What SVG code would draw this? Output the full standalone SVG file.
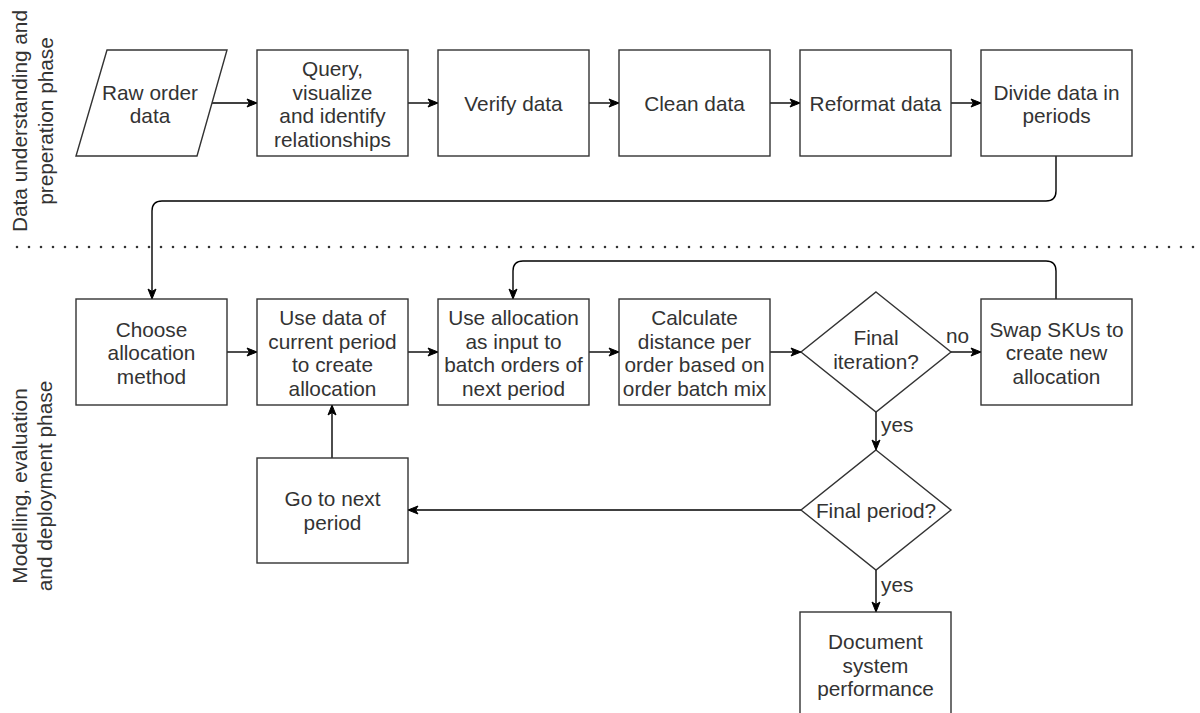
<svg xmlns="http://www.w3.org/2000/svg" width="1200" height="713" viewBox="0 0 1200 713">
  <defs>
    <marker id="arrow" markerUnits="userSpaceOnUse" markerWidth="12" markerHeight="10" viewBox="0 0 12 10" refX="11" refY="5" orient="auto">
      <path d="M1,1 L11,5 L1,9 L3.5,5 Z" fill="#000" stroke="#000" stroke-width="1"/>
    </marker>
  </defs>
  <style>
    .node { fill: #fff; stroke: #333; stroke-width: 1.4; }
    .lbl { font-family: "Liberation Sans", Arial, sans-serif; font-size: 20.8px; fill: #333; text-anchor: middle; }
    .edge { fill: none; stroke: #000; stroke-width: 1.4; }
    .edge-arrow { fill: none; stroke: #000; stroke-width: 1.4; marker-end: url(#arrow); }
    .edge-lbl { font-family: "Liberation Sans", Arial, sans-serif; font-size: 20.8px; fill: #333; }
    .divider { fill: none; stroke: #333; stroke-width: 2.6; stroke-linecap: round; stroke-dasharray: 0 12; }
  </style>

  <rect width="1200" height="713" fill="#fff"/>

  <!-- phase labels -->
  <g id="phase-prep">
    <text class="lbl" transform="translate(27,121) rotate(-90)">Data understanding and</text>
    <text class="lbl" transform="translate(53,121) rotate(-90)">preperation phase</text>
  </g>
  <g id="phase-model">
    <text class="lbl" transform="translate(27,486) rotate(-90)">Modelling, evaluation</text>
    <text class="lbl" transform="translate(52,486) rotate(-90)">and deployment phase</text>
  </g>

  <!-- phase divider -->
  <line class="divider" x1="17" y1="247" x2="1200" y2="247"/>

  <!-- connectors -->
  <g id="connectors">
    <line class="edge-arrow" x1="212" y1="103" x2="257" y2="103"/>
    <line class="edge-arrow" x1="408" y1="103" x2="438" y2="103"/>
    <line class="edge-arrow" x1="589" y1="103" x2="619" y2="103"/>
    <line class="edge-arrow" x1="770" y1="103" x2="800" y2="103"/>
    <line class="edge-arrow" x1="951" y1="103" x2="981" y2="103"/>
    <path class="edge-arrow" d="M1056,156 L1056,191 Q1056,201 1046,201 L162,201 Q152,201 152,211 L152,299"/>
    <line class="edge-arrow" x1="227" y1="352" x2="257" y2="352"/>
    <line class="edge-arrow" x1="408" y1="352" x2="438" y2="352"/>
    <line class="edge-arrow" x1="589" y1="352" x2="619" y2="352"/>
    <line class="edge-arrow" x1="770" y1="352" x2="801" y2="352"/>
    <line class="edge-arrow" x1="951" y1="352" x2="981" y2="352"/>
    <path class="edge-arrow" d="M1056,299 L1056,271 Q1056,261 1046,261 L523,261 Q513,261 513,271 L513,299"/>
    <line class="edge-arrow" x1="876" y1="412" x2="876" y2="450"/>
    <line class="edge-arrow" x1="876" y1="570" x2="876" y2="612"/>
    <line class="edge-arrow" x1="801" y1="510" x2="408" y2="510"/>
    <line class="edge-arrow" x1="332" y1="458" x2="332" y2="405"/>
    <text class="edge-lbl" x="946" y="343">no</text>
    <text class="edge-lbl" x="881" y="432">yes</text>
    <text class="edge-lbl" x="881" y="592">yes</text>
  </g>

  <!-- data preparation row -->
  <g id="raw-order-data">
    <polygon class="node" points="107,50 227,50 197,156 76,156"/>
    <text class="lbl" x="150" y="99.5">Raw order</text>
    <text class="lbl" x="150" y="123">data</text>
  </g>
  <g id="query">
    <rect class="node" x="257" y="50" width="151" height="106"/>
    <text class="lbl" x="332.5" y="76">Query,</text>
    <text class="lbl" x="332.5" y="99.5">visualize</text>
    <text class="lbl" x="332.5" y="123">and identify</text>
    <text class="lbl" x="332.5" y="146.5">relationships</text>
  </g>
  <g id="verify">
    <rect class="node" x="438" y="50" width="151" height="106"/>
    <text class="lbl" x="513.5" y="111">Verify data</text>
  </g>
  <g id="clean">
    <rect class="node" x="619" y="50" width="151" height="106"/>
    <text class="lbl" x="694.5" y="111">Clean data</text>
  </g>
  <g id="reformat">
    <rect class="node" x="800" y="50" width="151" height="106"/>
    <text class="lbl" x="875.5" y="111">Reformat data</text>
  </g>
  <g id="divide">
    <rect class="node" x="981" y="50" width="151" height="106"/>
    <text class="lbl" x="1056.5" y="99.5">Divide data in</text>
    <text class="lbl" x="1056.5" y="123">periods</text>
  </g>

  <!-- modelling row -->
  <g id="choose-method">
    <rect class="node" x="76" y="299" width="151" height="106"/>
    <text class="lbl" x="151.5" y="336.5">Choose</text>
    <text class="lbl" x="151.5" y="360">allocation</text>
    <text class="lbl" x="151.5" y="383.5">method</text>
  </g>
  <g id="create-allocation">
    <rect class="node" x="257" y="299" width="151" height="106"/>
    <text class="lbl" x="332.5" y="325">Use data of</text>
    <text class="lbl" x="332.5" y="348.5">current period</text>
    <text class="lbl" x="332.5" y="372">to create</text>
    <text class="lbl" x="332.5" y="395.5">allocation</text>
  </g>
  <g id="batch-orders">
    <rect class="node" x="438" y="299" width="151" height="106"/>
    <text class="lbl" x="513.5" y="325">Use allocation</text>
    <text class="lbl" x="513.5" y="348.5">as input to</text>
    <text class="lbl" x="513.5" y="372">batch orders of</text>
    <text class="lbl" x="513.5" y="395.5">next period</text>
  </g>
  <g id="calculate-distance">
    <rect class="node" x="619" y="299" width="151" height="106"/>
    <text class="lbl" x="694.5" y="325">Calculate</text>
    <text class="lbl" x="694.5" y="348.5">distance per</text>
    <text class="lbl" x="694.5" y="372">order based on</text>
    <text class="lbl" x="694.5" y="395.5">order batch mix</text>
  </g>
  <g id="final-iteration">
    <polygon class="node" points="876,292 951,352 876,412 801,352"/>
    <text class="lbl" x="876" y="345">Final</text>
    <text class="lbl" x="876" y="368.5">iteration?</text>
  </g>
  <g id="swap-skus">
    <rect class="node" x="981" y="299" width="151" height="106"/>
    <text class="lbl" x="1056.5" y="336.5">Swap SKUs to</text>
    <text class="lbl" x="1056.5" y="360">create new</text>
    <text class="lbl" x="1056.5" y="383.5">allocation</text>
  </g>
  <g id="next-period">
    <rect class="node" x="257" y="458" width="151" height="105"/>
    <text class="lbl" x="332.5" y="506">Go to next</text>
    <text class="lbl" x="332.5" y="529.5">period</text>
  </g>
  <g id="final-period">
    <polygon class="node" points="876,450 951,510 876,570 801,510"/>
    <text class="lbl" x="876" y="517.5">Final period?</text>
  </g>
  <g id="document-performance">
    <rect class="node" x="800" y="612" width="151" height="106"/>
    <text class="lbl" x="875.5" y="649">Document</text>
    <text class="lbl" x="875.5" y="672.5">system</text>
    <text class="lbl" x="875.5" y="696">performance</text>
  </g>
</svg>
